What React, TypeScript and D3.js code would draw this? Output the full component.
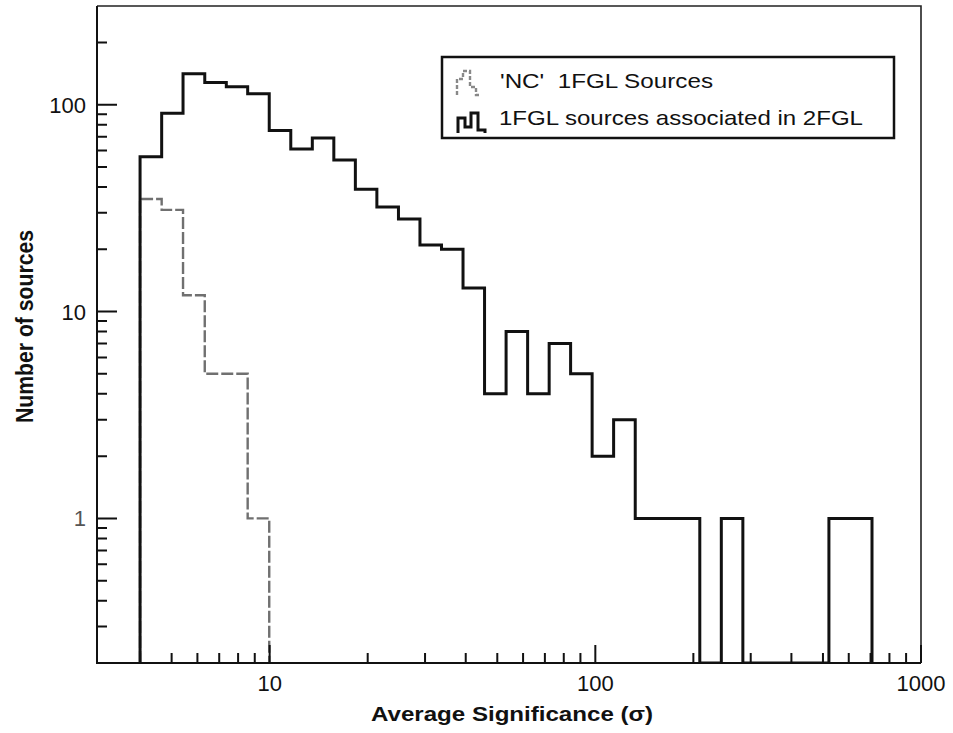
import React from "react";
import * as d3 from "d3";

// Histogram bin edges (Average significance, sigma), log-spaced
const binEdges = [4.0, 4.66, 5.42, 6.32, 7.36, 8.56, 9.97, 11.61, 13.52, 15.74, 18.33, 21.34, 24.86, 28.94, 33.7, 39.24, 45.69, 53.21, 61.96, 72.15, 83.96, 97.76, 113.8, 132.6, 154.3, 179.7, 209.3, 243.7, 283.8, 330.4, 384.7, 447.9, 521.5, 607.3, 707.2];
// 1FGL sources associated in 2FGL (counts per bin)
const assocCounts = [56, 91, 141, 128, 122, 113, 75, 61, 69, 54, 39, 32, 28, 21, 20, 13, 4, 8, 4, 7, 5, 2, 3, 1, 1, 1, 0, 1, 0, 0, 0, 0, 1, 1];
// 'NC' 1FGL sources (counts per bin, first bins)
const ncCounts = [35, 31, 12, 5, 5, 1];

const xTickMajor = [10, 100, 1000];
const xTickLabels = ["10", "100", "1000"];
const yTickMajor = [1, 10, 100];
const yTickLabels = ["1", "10", "100"];
const xMinor = [4, 5, 6, 7, 8, 9, 20, 30, 40, 50, 60, 70, 80, 90, 200, 300, 400, 500, 600, 700, 800, 900];
const yMinor = [0.3, 0.4, 0.5, 0.6, 0.7, 0.8, 0.9, 2, 3, 4, 5, 6, 7, 8, 9, 20, 30, 40, 50, 60, 70, 80, 90, 200];

const legendLabels = ["'NC'  1FGL Sources", "1FGL sources associated in 2FGL"];
const xTitle = "Average Significance (σ)";
const yTitle = "Number of sources";

const W = 953, H = 733;
const L = 97, R = 921, T = 6, B = 663;
const FONT = "'Liberation Sans', Arial, Helvetica, sans-serif";

function stepPath(edges: number[], counts: number[], x: any, y: any) {
  const yv = (c: number) => (c > 0 ? y(c) : B);
  let d = `M${x(edges[0])},${B}`;
  counts.forEach((c, i) => {
    d += `L${x(edges[i])},${yv(c)}L${x(edges[i + 1])},${yv(c)}`;
  });
  d += `L${x(edges[counts.length])},${B}`;
  return d;
}

export default function App() {
  const x = d3.scaleLog().domain([2.95, 1000]).range([L, R]);
  const y = d3.scaleLog().domain([0.2, 300]).range([B, T]);

  const assocPath = stepPath(binEdges, assocCounts, x, y);
  const ncPath = stepPath(binEdges, ncCounts, x, y);

  const xMajorD = xTickMajor.map((v) => `M${x(v)},${B}V${B - 18}`).join("");
  const xMinorD = xMinor.map((v) => `M${x(v)},${B}V${B - 10}`).join("");
  const yMajorD = yTickMajor.map((v) => `M${L},${y(v)}H${L + 20}`).join("");
  const yMinorD = yMinor.map((v) => `M${L},${y(v)}H${L + 10}`).join("");

  return (
    <svg width={W} height={H} style={{ position: "absolute", left: 0, top: 0, background: "#fff" }} fontFamily={FONT}>
      <defs>
        <clipPath id="plot">
          <rect x={L} y={T} width={R - L} height={B - T} />
        </clipPath>
      </defs>
      <rect x={0} y={0} width={W} height={H} fill="#fff" />

      {/* histograms */}
      <g clipPath="url(#plot)">
        <path d={ncPath} fill="none" stroke="#707070" strokeWidth={2.4} strokeDasharray="12,3" />
        <path d={assocPath} fill="none" stroke="#111" strokeWidth={3} strokeLinejoin="miter" />
      </g>

      {/* frame */}
      <path d={`M${L},${T}H${R}V${B}`} fill="none" stroke="#222" strokeWidth={1.6} />
      <path d={`M${L},${T}V${B}H${R}`} fill="none" stroke="#111" strokeWidth={2} />

      {/* ticks */}
      <path d={xMajorD} fill="none" stroke="#111" strokeWidth={2} />
      <path d={xMinorD} fill="none" stroke="#111" strokeWidth={2} />
      <path d={yMajorD} fill="none" stroke="#111" strokeWidth={2} />
      <path d={yMinorD} fill="none" stroke="#111" strokeWidth={2} />

      {xTickMajor.map((v, i) => (
        <text key={"xl" + v} x={x(v)} y={691} fontSize={22} textAnchor="middle" fill="#111">
          {xTickLabels[i]}
        </text>
      ))}
      {yTickMajor.map((v, i) => (
        <text key={"yl" + v} x={86} y={y(v) + 8} fontSize={22} textAnchor="end" fill={v === 1 ? "#555" : "#111"}>
          {yTickLabels[i]}
        </text>
      ))}

      {/* axis titles */}
      <text x={512} y={721} fontSize={21} fontWeight="bold" textAnchor="middle" textLength={282} lengthAdjust="spacingAndGlyphs" fill="#111">
        {xTitle}
      </text>
      <text transform={`translate(33,326.5) rotate(-90)`} fontSize={24} fontWeight="bold" textAnchor="middle" textLength={193} lengthAdjust="spacingAndGlyphs" fill="#111">
        {yTitle}
      </text>

      {/* legend */}
      <rect x={442} y={57} width={452} height={81} fill="#fff" stroke="#111" strokeWidth={2.5} />
      <path d="M457,95V79H463V71H470V87H476V95H481" fill="none" stroke="#888" strokeWidth={2.4} strokeDasharray="4,2" />
      <path d="M458,133V118H465V127H471V113H478V130H485V133" fill="none" stroke="#111" strokeWidth={3} />
      <text x={500} y={88} fontSize={21} fill="#111" style={{ whiteSpace: "pre" }} textLength={213} lengthAdjust="spacingAndGlyphs">
        {legendLabels[0]}
      </text>
      <text x={499} y={125} fontSize={21} fill="#111" textLength={364} lengthAdjust="spacingAndGlyphs">
        {legendLabels[1]}
      </text>
    </svg>
  );
}
